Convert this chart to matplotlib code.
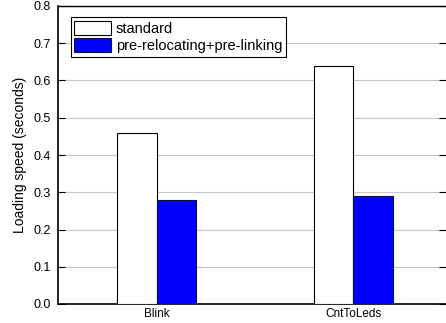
import numpy as np
import matplotlib
matplotlib.use('Agg')
import matplotlib.pyplot as plt

# loading time per application, two loader configurations
apps = ['Blink', 'CntToLeds']
standard = [0.46, 0.64]
prelinked = [0.28, 0.29]
series_names = ['standard', 'pre-relocating+pre-linking']

plt.rcParams['font.family'] = ['Liberation Sans', 'DejaVu Sans']

fig = plt.figure(figsize=(4.46, 3.23), dpi=100)
ax = fig.add_axes([58 / 446, 19 / 323, 388 / 446, 298 / 323])

x = np.arange(len(apps))
w = 0.2
ax.bar(x - w / 2, standard, w, color='white', edgecolor='black', linewidth=0.8,
       label=series_names[0], zorder=3)
ax.bar(x + w / 2, prelinked, w, color='#0000ff', edgecolor='#101040', linewidth=0.8,
       label=series_names[1], zorder=3)

ax.set_xlim(-0.502, 1.471)
ax.set_ylim(0, 0.8)
ax.set_yticks(np.arange(0, 0.81, 0.1))
ax.set_yticklabels(['%.1f' % v for v in np.arange(0, 0.81, 0.1)])
ax.set_xticks(x)
ax.set_xticklabels(apps)
ax.tick_params(axis='y', direction='in', length=5, width=0.8, labelsize=9,
               right=True, pad=5)
ax.tick_params(axis='x', length=0, labelsize=8.5, pad=3)
ax.yaxis.grid(True, color='#c8c8c8', linewidth=0.8, zorder=0)
ax.set_ylabel('Loading speed (seconds)', fontsize=10, labelpad=5)

for side in ['left', 'bottom']:
    ax.spines[side].set_linewidth(1.2)
ax.spines['top'].set_linewidth(1.0)
ax.spines['right'].set_visible(False)

leg = ax.legend(loc='upper left', bbox_to_anchor=(0.033, 0.962), fontsize=10.5,
                frameon=True, fancybox=False, edgecolor='black', framealpha=1,
                handlelength=2.5, handleheight=1.1, handletextpad=0.35,
                borderpad=0.25, labelspacing=0.15, borderaxespad=0)
leg.get_frame().set_linewidth(0.8)

fig.savefig('out.png', dpi=100)
